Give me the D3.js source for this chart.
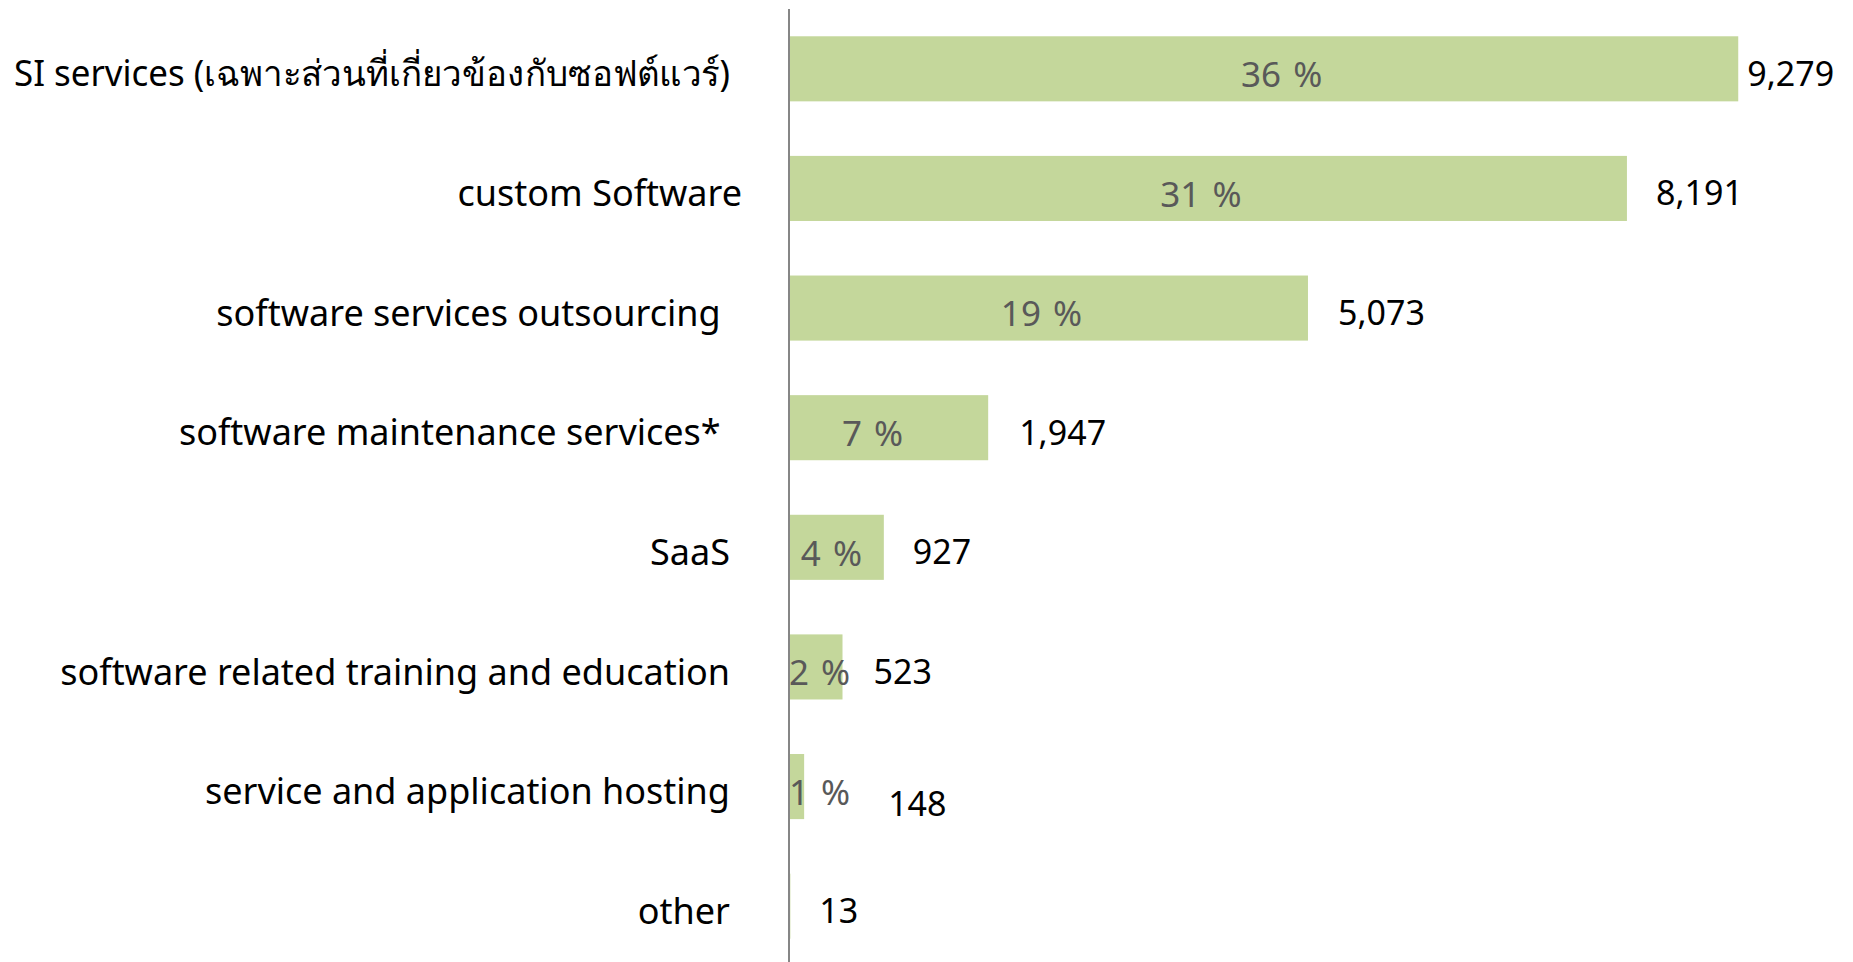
<!DOCTYPE html>
<html>
<head>
<meta charset="utf-8">
<script src="https://cdn.jsdelivr.net/npm/d3@7"></script>
<style>
  html, body { margin: 0; padding: 0; background: #fff; }
  svg text { white-space: pre; }
</style>
</head>
<body>
<svg id="chart" width="1853" height="962"></svg>
<script>
// ---- data ----
const categories = [
  "SI services (เฉพาะส่วนที่เกี่ยวข้องกับซอฟต์แวร์)",
  "custom Software",
  "software services outsourcing ",
  "software maintenance services* ",
  "SaaS",
  "software related training and education",
  "service and application hosting",
  "other"
];
const values = [9279, 8191, 5073, 1947, 927, 523, 148, 13];
const percentLabels = ["36 %", "31 %", "19 %", "7 %", "4 %", "2 %", "1 %", ""];
const xDomain = [0, 10000];

// ---- layout ----
const axisX = 789;
const font = "'Noto Sans', 'DejaVu Sans', sans-serif";
const catSize = 36;
const pctSize = 35;
const valSize = 34;
const labelRight = 730;
const labelMaxW = 716;
const catDx = [0, 12, 0, 0, 0, 0, 0, 0];     // small per-label nudges
const pctDx = [18, -7, -7, -16, -5, 0, 0, 0];
const valDx = [9, 29, 30, 31, 29, 31, 84, 29];
const valDy = [0, 0, 0, 0, 0, 0, 13, 0];

const svg = d3.select("#chart");

const x = d3.scaleLinear().domain(xDomain).range([axisX, axisX + 1023]);
const y = d3.scaleBand().domain(categories).range([9, 966]).paddingInner(0.456).paddingOuter(0.228);

// bars
svg.append("g").selectAll("rect").data(values).join("rect")
  .attr("x", x(0))
  .attr("y", (d, i) => y(categories[i]))
  .attr("width", d => x(d) - x(0))
  .attr("height", y.bandwidth())
  .attr("fill", "#c4d79b");

// axis line (category axis)
const yAxis = d3.axisLeft(y).tickSize(0).tickFormat("");
const ga = svg.append("g").attr("transform", `translate(${axisX},0)`).call(yAxis);
ga.select(".domain").attr("stroke", "#868686").attr("stroke-width", 2)
  .attr("d", `M0,9V962`);

// category labels
svg.append("g").selectAll("text").data(categories).join("text")
  .attr("x", (d, i) => labelRight + catDx[i])
  .attr("y", d => y(d) + y.bandwidth() / 2 + 5)
  .attr("dy", "0.35em")
  .attr("text-anchor", "end")
  .attr("font-family", font)
  .attr("font-size", catSize)
  .attr("fill", "#000")
  .text(d => d)
  .each(function () {
    const w = this.getComputedTextLength();
    if (w > labelMaxW) {
      d3.select(this).attr("textLength", labelMaxW).attr("lengthAdjust", "spacingAndGlyphs");
    }
  });

// percent labels (inside, centred; clamped to axis)
const pg = svg.append("g");
percentLabels.forEach((p, i) => {
  if (!p) return;
  const t = pg.append("text")
    .attr("y", y(categories[i]) + y.bandwidth() / 2 + 6)
    .attr("dy", "0.35em")
    .attr("text-anchor", "middle")
    .attr("font-family", font)
    .attr("font-size", pctSize)
    .attr("fill", "#595959")
    .attr("word-spacing", 3)
    .text(p);
  const w = t.node().getComputedTextLength();
  const cx = Math.max((x(0) + x(values[i])) / 2 + pctDx[i], x(0) + w / 2);
  t.attr("x", cx);
});

// value labels
svg.append("g").selectAll("text").data(values).join("text")
  .attr("x", (d, i) => x(d) + valDx[i])
  .attr("y", (d, i) => y(categories[i]) + y.bandwidth() / 2 + 5 + valDy[i])
  .attr("dy", "0.35em")
  .attr("font-family", font)
  .attr("font-size", valSize)
  .attr("fill", "#000")
  .text(d => d3.format(",")(d));
</script>
</body>
</html>
